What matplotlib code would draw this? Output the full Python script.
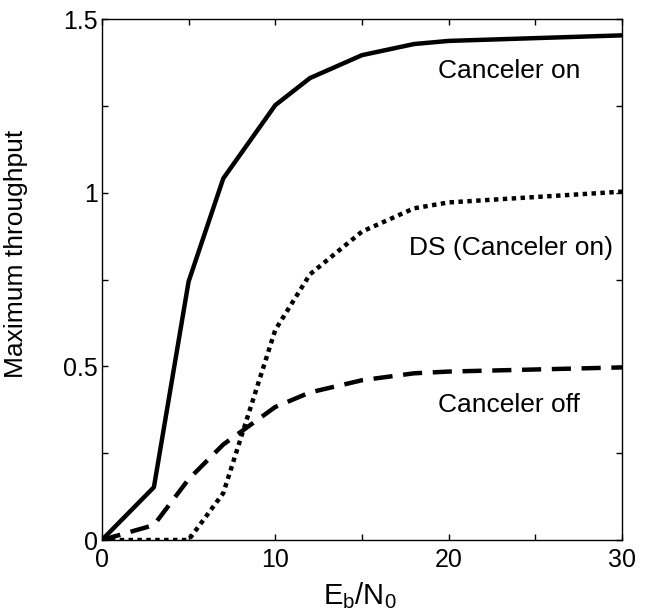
from matplotlib import pyplot as pl
from matplotlib.ticker import MultipleLocator

pl.rcParams['font.family'] = ['Liberation Sans', 'DejaVu Sans']

# Eb/N0 sample points
ebn0 = [0, 3, 5, 7, 10, 12, 15, 18, 20, 30]

# Maximum throughput for each case
canceler_on = [0, 0.152, 0.744, 1.041, 1.252, 1.330, 1.396, 1.428, 1.437, 1.453]
canceler_off = [0, 0.043, 0.175, 0.275, 0.383, 0.425, 0.460, 0.480, 0.485, 0.497]
ds_on = [0, 0, 0, 0.135, 0.605, 0.765, 0.888, 0.955, 0.972, 1.003]

labels = ['Canceler on', 'DS (Canceler on)', 'Canceler off']
label_x = [23.5, 23.6, 23.5]
label_y = [1.35, 0.84, 0.39]

fig = pl.figure(figsize=(6.49, 6.14), dpi=100)
ax = fig.add_axes([0.157, 0.1205, 0.8015, 0.8485])

lw = 3.2
ax.plot(ebn0, canceler_on, color='black', linewidth=lw, linestyle='-')
ax.plot(ebn0, canceler_off, color='black', linewidth=lw,
        linestyle=(0, (4.3, 2.4)))
ax.plot(ebn0, ds_on, color='black', linewidth=lw,
        linestyle=(0, (1, 1)))

for txt, tx, ty in zip(labels, label_x, label_y):
    ax.text(tx, ty, txt, fontsize=19, ha='center', va='center')

ax.set_xlim(0, 30)
ax.set_ylim(0, 1.5)

ax.xaxis.set_minor_locator(MultipleLocator(5))
ax.yaxis.set_minor_locator(MultipleLocator(0.25))
ax.set_xticks([0, 10, 20, 30])
ax.set_xticklabels(['0', '10', '20', '30'])
ax.set_yticks([0, 0.5, 1, 1.5])
ax.set_yticklabels(['0', '0.5', '1', '1.5'])

ax.tick_params(which='both', direction='in', top=True, right=True,
               length=4.5, width=1, labelsize=18, pad=3)
ax.tick_params(axis='x', which='major', pad=6)

for sp in ax.spines.values():
    sp.set_linewidth(1)

ax.set_xlabel(r'$\mathregular{E_b/N_0}$', fontsize=21)
ax.set_ylabel('Maximum throughput', fontsize=19)
ax.yaxis.set_label_coords(-0.142, 0.549)
ax.xaxis.set_label_coords(0.496, -0.078)

fig.savefig('out.png', dpi=100)
